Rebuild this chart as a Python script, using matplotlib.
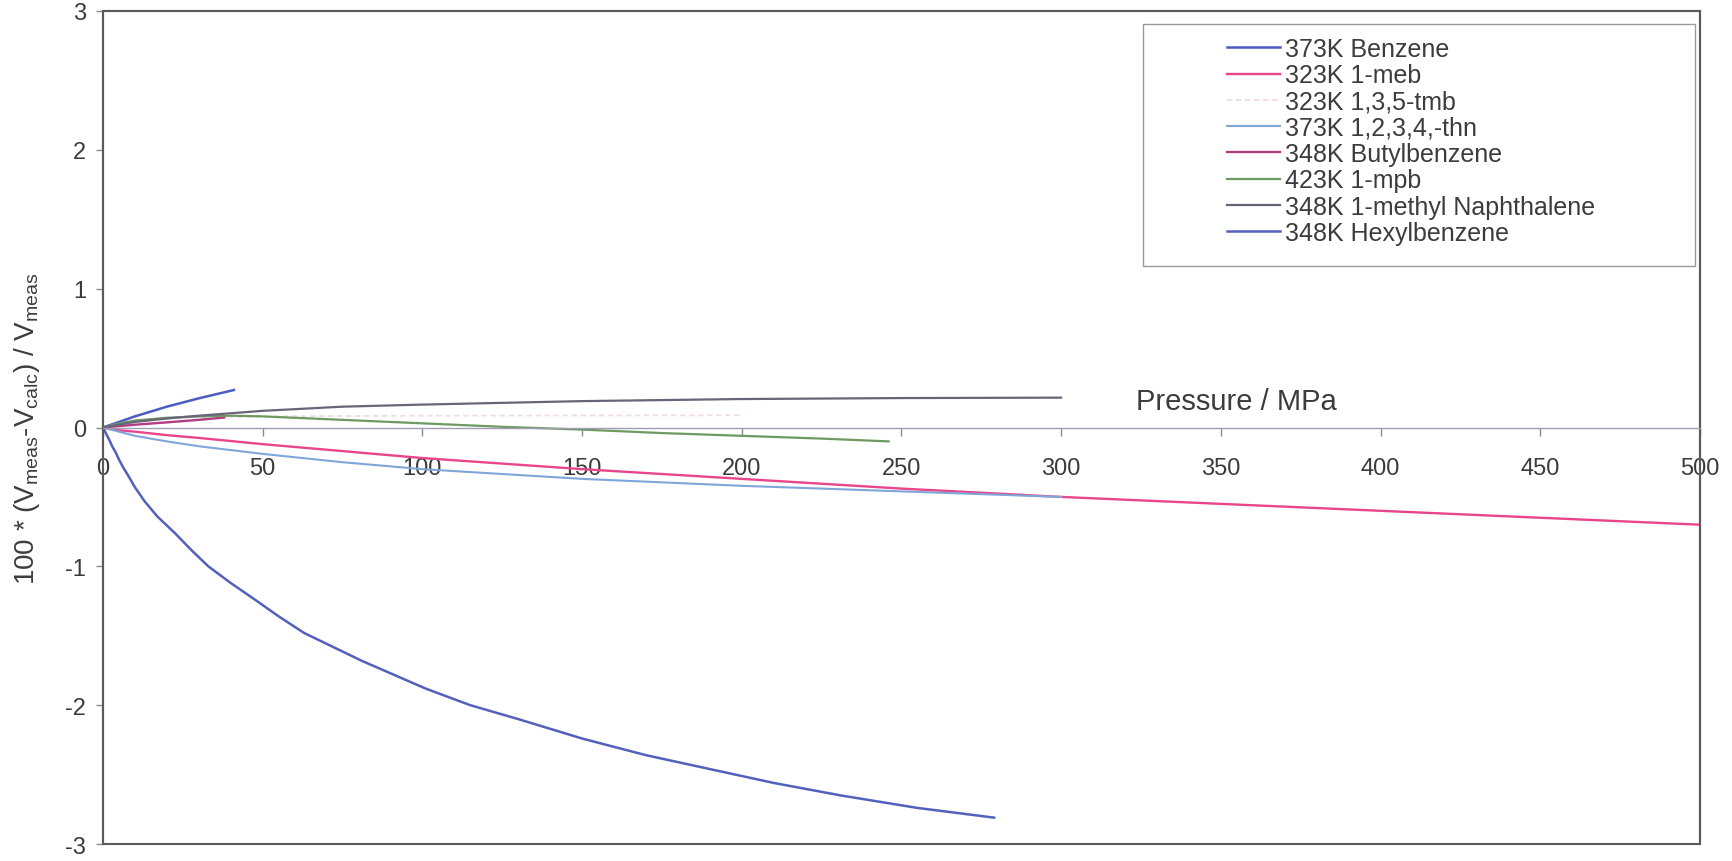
import matplotlib
matplotlib.use('Agg')
import matplotlib.pyplot as plt
from matplotlib.patches import Rectangle

plt.rcParams['font.family'] = ['Liberation Sans', 'DejaVu Sans']
plt.rcParams['mathtext.fontset'] = 'custom'
plt.rcParams['mathtext.rm'] = 'Liberation Sans'
plt.rcParams['mathtext.it'] = 'Liberation Sans:italic'
plt.rcParams['axes.unicode_minus'] = False

TXT = '#3c3c3c'

# pressure (MPa) / deviation values
p_benzene = [0, 5, 10, 20, 30, 41]
v_benzene = [0, 0.04, 0.08, 0.15, 0.21, 0.27]

p_meb = [0, 5, 10, 20, 30, 50, 75, 100, 150, 200, 250, 300, 350, 400, 450, 500]
v_meb = [0, -0.02, -0.03, -0.055, -0.075, -0.12, -0.17, -0.22, -0.30, -0.37, -0.44, -0.50, -0.55, -0.60, -0.65, -0.70]

p_tmb = [0, 10, 25, 50, 100, 150, 200]
v_tmb = [0, 0.04, 0.07, 0.08, 0.085, 0.087, 0.088]

p_thn = [0, 5, 10, 20, 30, 50, 75, 100, 150, 200, 250, 300]
v_thn = [0, -0.03, -0.06, -0.10, -0.135, -0.19, -0.25, -0.30, -0.37, -0.42, -0.46, -0.50]

p_butyl = [0, 10, 20, 30, 38]
v_butyl = [0, 0.02, 0.037, 0.055, 0.072]

p_mpb = [0, 5, 10, 20, 30, 40, 50, 75, 100, 125, 150, 175, 200, 225, 246]
v_mpb = [0, 0.03, 0.05, 0.07, 0.08, 0.085, 0.08, 0.055, 0.03, 0.005, -0.015, -0.04, -0.06, -0.08, -0.10]

p_naph = [0, 5, 10, 20, 30, 50, 75, 100, 150, 200, 250, 300]
v_naph = [0, 0.02, 0.04, 0.065, 0.085, 0.12, 0.15, 0.165, 0.19, 0.205, 0.212, 0.215]

p_hexyl = [0, 1, 2, 3, 4, 5, 6.4, 8, 10, 13, 17, 22.5, 28, 33, 40, 47.6, 55, 63, 72, 81,
           91, 101, 115, 130, 150, 170, 192, 210, 231, 255, 279]
v_hexyl = [0, -0.045, -0.09, -0.14, -0.18, -0.23, -0.29, -0.35, -0.43, -0.53, -0.64,
           -0.76, -0.89, -1.00, -1.12, -1.24, -1.36, -1.48, -1.58, -1.68, -1.78, -1.88,
           -2.00, -2.10, -2.24, -2.36, -2.47, -2.56, -2.65, -2.74, -2.81]

x_ticks = [0, 50, 100, 150, 200, 250, 300, 350, 400, 450, 500]
y_ticks = [-3, -2, -1, 0, 1, 2, 3]

fig = plt.figure(figsize=(17.33, 8.62), dpi=100)
ax = fig.add_axes([0.0594, 0.0197, 0.9215, 0.9664])

ax.plot(p_benzene, v_benzene, color='#4b5cc4', lw=1.8, label='373K Benzene')
ax.plot(p_meb, v_meb, color='#e8458a', lw=1.7, label='323K 1-meb')
ax.plot(p_tmb, v_tmb, color='#efdede', lw=1.3, ls=(0, (3, 2)), label='323K 1,3,5-tmb')
ax.plot(p_thn, v_thn, color='#7ea6d8', lw=1.5, label='373K 1,2,3,4,-thn')
ax.plot(p_butyl, v_butyl, color='#b13c82', lw=1.7, label='348K Butylbenzene')
ax.plot(p_mpb, v_mpb, color='#6e9a62', lw=1.6, label='423K 1-mpb')
ax.plot(p_naph, v_naph, color='#6a6478', lw=1.6, label='348K 1-methyl Naphthalene')
ax.plot(p_hexyl, v_hexyl, color='#5360bc', lw=1.8, label='348K Hexylbenzene')

ax.set_xlim(0, 500)
ax.set_ylim(-3, 3)
ax.set_xticks(x_ticks)
ax.set_yticks(y_ticks)

# x axis crosses at zero, box drawn separately
ax.spines['bottom'].set_position(('data', 0))
ax.spines['bottom'].set_color('#a09cb4')
ax.spines['bottom'].set_linewidth(1.0)
for s in ['left', 'top', 'right']:
    ax.spines[s].set_color('#5a5a5a')
    ax.spines[s].set_linewidth(1.5)
ax.add_patch(Rectangle((0, 0), 1, 1, transform=ax.transAxes, fill=False,
                       edgecolor='#5a5a5a', lw=1.5, clip_on=False, zorder=0))

ax.tick_params(axis='x', direction='out', length=6, width=1, color='#8a8a9a',
               labelsize=17, labelcolor=TXT, pad=15)
ax.tick_params(axis='y', direction='out', length=5, width=1, color='#8a8a8a',
               labelsize=17, labelcolor=TXT, pad=7)

ax.set_xlabel('Pressure / MPa', fontsize=21, color=TXT)
ax.xaxis.set_label_coords(0.71, 0.549)
ax.set_ylabel('100 * (V$_{\\rm meas}$-V$_{\\rm calc}$) / V$_{\\rm meas}$', fontsize=20, color=TXT)
ax.yaxis.set_label_coords(-0.038, 0.5)

# legend: unframed text with a separate wide box
fig.patches.append(Rectangle((1143 / 1733, 1 - 267 / 862), 552 / 1733, 242 / 862,
                             transform=fig.transFigure, fill=False,
                             edgecolor='#9a9a9a', lw=1.0))
fig.legend(loc='upper left', bbox_to_anchor=(1227 / 1733, 1 - 38 / 862),
           frameon=False, fontsize=18, labelcolor=TXT, borderpad=0, borderaxespad=0,
           handlelength=2.12, handletextpad=0.2, labelspacing=0.09)

fig.savefig('out.png', dpi=100, facecolor='white')
